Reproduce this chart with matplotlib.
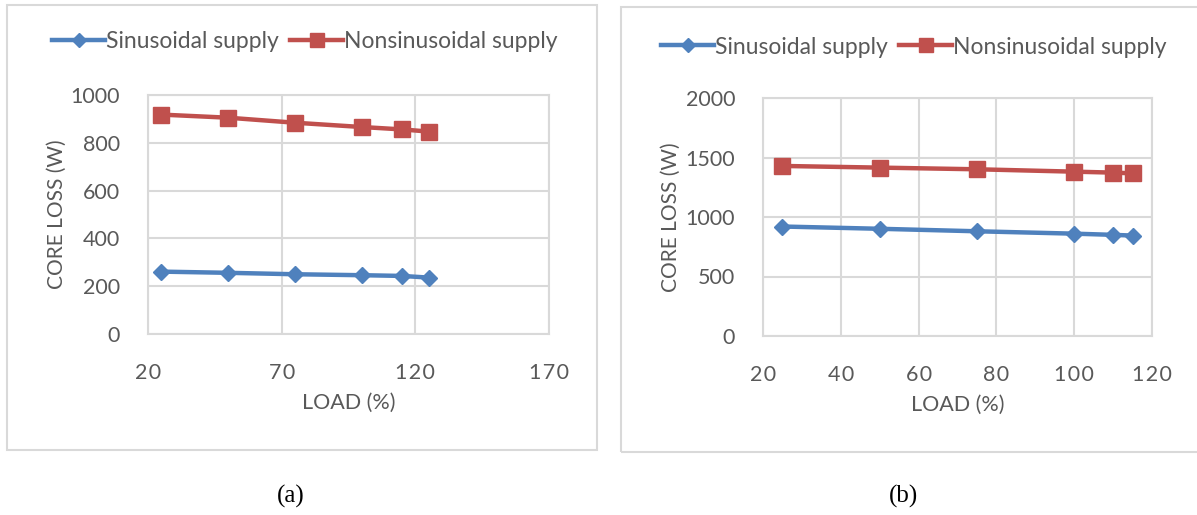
import matplotlib
matplotlib.use("Agg")
import matplotlib.pyplot as plt
from matplotlib.patches import Rectangle
from matplotlib.ticker import FuncFormatter

# ---- data ----
load_a = [25, 50, 75, 100, 115, 125]
sin_a = [261, 256, 250, 246, 243, 236]
nonsin_a = [918, 905, 884, 866, 856, 847]

load_b = [25, 50, 75, 100, 110, 115]
sin_b = [920, 901, 880, 860, 850, 844]
nonsin_b = [1429, 1415, 1401, 1381, 1373, 1367]

xticks_a = [20, 70, 120, 170]
yticks_a = [0, 200, 400, 600, 800, 1000]
xticks_b = [20, 40, 60, 80, 100, 120]
yticks_b = [0, 500, 1000, 1500, 2000]

series_names = ["Sinusoidal supply", "Nonsinusoidal supply"]
captions = ["(a)", "(b)"]

BLUE = "#4F81BD"
RED = "#C0504D"
GRID = "#D9D9D9"
TXT = "#595959"

plt.rcParams['font.family'] = ['Lato', 'DejaVu Sans']

W, H = 1197, 515
fig = plt.figure(figsize=(W / 100, H / 100), dpi=100)


def fx(px):
    return px / W


def fy(py):
    return 1 - py / H


spaced = FuncFormatter(lambda v, p: "\u200a".join(str(int(round(v)))))


def panel(frame, plot, load, sin, nonsin, xt, yt, leg_y, leg_x, ylab_x, xlab_y):
    fx0, fy0, fx1, fy1 = frame
    fig.patches.append(Rectangle((fx(fx0), fy(fy1)), fx(fx1 - fx0), (fy1 - fy0) / H,
                                 transform=fig.transFigure, fill=False,
                                 edgecolor=GRID, linewidth=1.5, zorder=0))
    x0, y0, x1, y1 = plot
    ax = fig.add_axes([fx(x0), fy(y1), fx(x1 - x0), (y1 - y0) / H])
    l1, = ax.plot(load, sin, color=BLUE, lw=3.2, marker='D', ms=8.5,
                  markeredgecolor=BLUE, zorder=3)
    l2, = ax.plot(load, nonsin, color=RED, lw=3.2, marker='s', ms=12,
                  markeredgecolor=RED, zorder=3)
    ax.set_xlim(xt[0], xt[-1])
    ax.set_ylim(yt[0], yt[-1])
    ax.set_xticks(xt)
    ax.set_yticks(yt)
    ax.xaxis.set_major_formatter(spaced)
    ax.grid(True, color=GRID, lw=1.5)
    ax.set_axisbelow(True)
    for s in ax.spines.values():
        s.set_color(GRID)
        s.set_linewidth(1.5)
    ax.tick_params(length=0, colors=TXT, labelsize=15.5)
    ax.tick_params(axis='y', pad=20)
    ax.tick_params(axis='x', pad=21)
    for ln in (l1, l2):
        ln.set_clip_on(False)
    fig.text(fx(ylab_x), fy((y0 + y1) / 2), "CORE LOSS (W)", rotation=90,
             ha='center', va='center', fontsize=15, color=TXT)
    fig.text(fx((x0 + x1) / 2), fy(xlab_y), "LOAD (%)", ha='center',
             va='center', fontsize=15.5, color=TXT)
    fig.legend([l1, l2], series_names, loc='center',
               bbox_to_anchor=(fx(leg_x), fy(leg_y)), ncol=2, frameon=False,
               fontsize=16.5, labelcolor=TXT, handlelength=2.3,
               handletextpad=0.05, columnspacing=0.5, markerscale=0.85)
    return ax


panel((7, 5, 597, 450), (148, 95, 549, 334), load_a, sin_a, nonsin_a,
      xticks_a, yticks_a, 42, 305, 57, 403)
panel((621, 7, 1210, 452), (763, 98, 1152, 336), load_b, sin_b, nonsin_b,
      xticks_b, yticks_b, 47, 914, 671, 405)

for cxp, cap in zip([291, 904], captions):
    fig.text(fx(cxp), fy(496), cap, ha='center', va='center',
             fontsize=18, family=['Liberation Serif', 'DejaVu Serif'], color='black')

fig.savefig("out.png", dpi=100, facecolor='white')
